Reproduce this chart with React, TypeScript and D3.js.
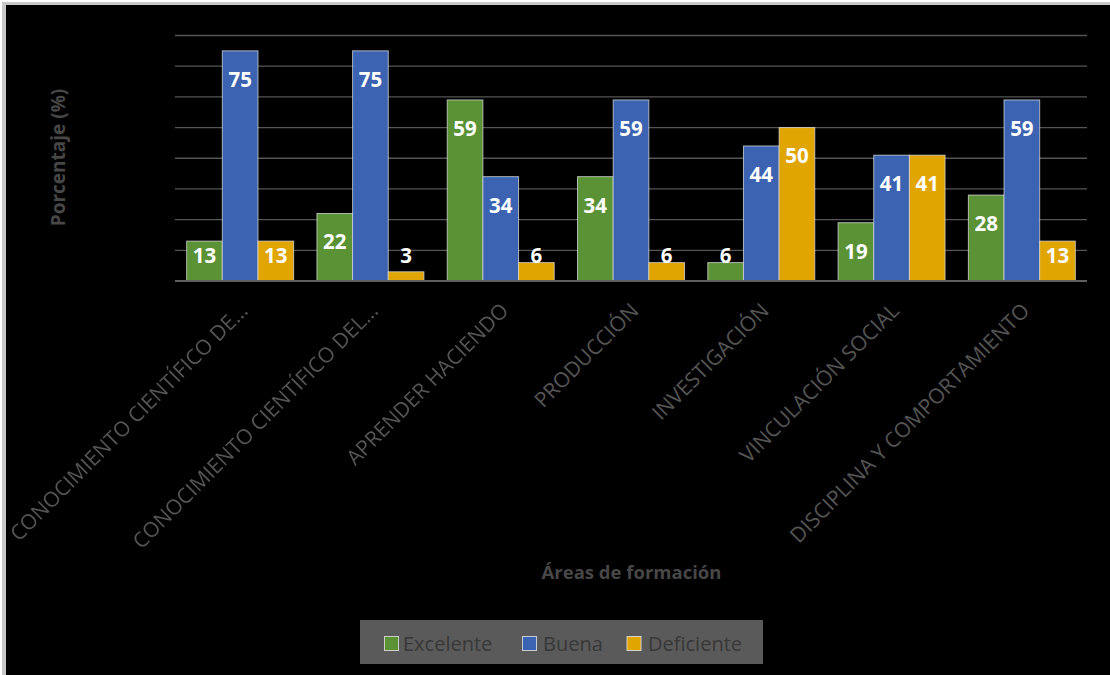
import React from "react";
import * as d3 from "d3";

const categories = [
  "CONOCIMIENTO CIENTÍFICO DE...",
  "CONOCIMIENTO CIENTÍFICO DEL...",
  "APRENDER HACIENDO",
  "PRODUCCIÓN",
  "INVESTIGACIÓN",
  "VINCULACIÓN SOCIAL",
  "DISCIPLINA Y COMPORTAMIENTO",
];
const seriesNames = ["Excelente", "Buena", "Deficiente"];
const excelente = [13, 22, 59, 34, 6, 19, 28];
const buena = [75, 75, 34, 59, 44, 41, 59];
const deficiente = [13, 3, 6, 6, 50, 41, 13];
const yTicks = [0, 10, 20, 30, 40, 50, 60, 70, 80];
const colors = ["#5b9236", "#3b63b1", "#e0a500"];

const W = 1110;
const H = 675;
const plot = { left: 175, right: 1087, top: 35.5, bottom: 281 };
const FONT = "'Open Sans', 'Noto Sans', sans-serif";

export default function App() {
  const series = [excelente, buena, deficiente];
  const x0 = d3
    .scaleBand<string>()
    .domain(categories)
    .range([plot.left, plot.right])
    .paddingInner(0.179)
    .paddingOuter(0.0895);
  const x1 = d3.scaleBand<string>().domain(seriesNames).range([0, x0.bandwidth()]);
  const y = d3.scaleLinear().domain([0, 80]).range([plot.bottom, plot.top]);

  const legendItems = [
    { name: seriesNames[0], sx: 384.5, tx: 403 },
    { name: seriesNames[1], sx: 522.5, tx: 543 },
    { name: seriesNames[2], sx: 627, tx: 648 },
  ];

  return (
    <svg
      width={W}
      height={H}
      style={{ position: "fixed", left: 0, top: 0, display: "block" }}
    >
      <rect x={0} y={0} width={W} height={H} fill="#ffffff" />
      <rect x={2} y={2} width={W} height={H} fill="#c8c8c8" />
      <rect x={6} y={5} width={W} height={H} fill="#000000" />

      {/* gridlines */}
      {yTicks.slice(1).map((t) => (
        <line
          key={t}
          x1={plot.left}
          x2={plot.right}
          y1={y(t)}
          y2={y(t)}
          stroke="#555555"
          strokeWidth={1.3}
        />
      ))}

      {/* bars */}
      {categories.map((c, i) => (
        <g key={c} transform={`translate(${x0(c)},0)`}>
          {series.map((vals, s) => {
            const v = vals[i];
            const bx = x1(seriesNames[s])!;
            const bw = x1.bandwidth();
            return (
              <rect
                key={s}
                x={bx}
                y={y(v)}
                width={bw}
                height={y(0) - y(v)}
                fill={colors[s]}
                stroke="rgba(220,220,220,0.75)"
                strokeWidth={1}
              />
            );
          })}
        </g>
      ))}

      {/* baseline */}
      <line
        x1={plot.left}
        x2={plot.right}
        y1={y(0)}
        y2={y(0)}
        stroke="#5f5f5f"
        strokeWidth={2.2}
      />

      {/* data labels */}
      {categories.map((c, i) =>
        series.map((vals, s) => {
          const v = vals[i];
          const cx = x0(c)! + x1(seriesNames[s])! + x1.bandwidth() / 2;
          const ly = Math.min(y(v) + 28.5, y(0) - 25.5);
          return (
            <text
              key={`${c}-${s}`}
              x={cx}
              y={ly}
              dy="0.36em"
              textAnchor="middle"
              fill="#ffffff"
              fontFamily={FONT}
              fontWeight={700}
              fontSize={20.5}
            >
              {v}
            </text>
          );
        })
      )}

      {/* category labels */}
      {categories.map((c) => {
        const cx = x0(c)! + x0.bandwidth() / 2;
        return (
          <text
            key={c}
            transform={`translate(${cx + 9},${312}) rotate(-45)`}
            textAnchor="end"
            fill="#555555"
            fontFamily={FONT}
            fontSize={21}
          >
            {c}
          </text>
        );
      })}

      {/* axis titles */}
      <text
        transform={`translate(58,157.5) rotate(-90)`}
        textAnchor="middle"
        dy="0.35em"
        fill="#474747"
        fontFamily={FONT}
        fontWeight={700}
        fontSize={19}
      >
        Porcentaje (%)
      </text>
      <text
        x={631.5}
        y={573}
        dy="0.35em"
        textAnchor="middle"
        fill="#474747"
        fontFamily={FONT}
        fontWeight={700}
        fontSize={18.5}
      >
        Áreas de formación
      </text>

      {/* legend */}
      <rect x={360} y={620} width={403} height={44} fill="#5a5a5a" />
      {legendItems.map((it, k) => (
        <g key={it.name}>
          <rect
            x={it.sx}
            y={636.5}
            width={14}
            height={14}
            fill={colors[k]}
            stroke="rgba(230,230,230,0.8)"
            strokeWidth={1}
          />
          <text
            x={it.tx}
            y={643.5}
            dy="0.35em"
            fill="#383838"
            fontFamily={FONT}
            fontSize={20}
          >
            {it.name}
          </text>
        </g>
      ))}
    </svg>
  );
}
